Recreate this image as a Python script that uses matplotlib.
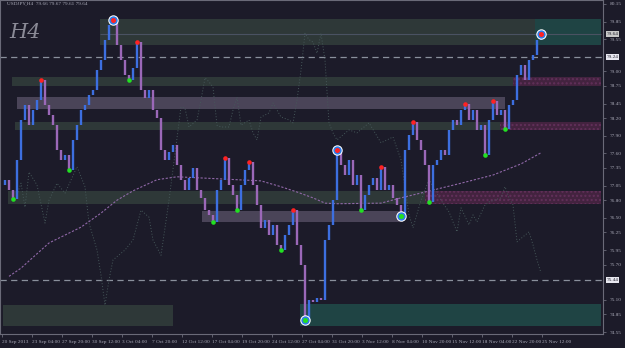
import numpy as np
import matplotlib
matplotlib.use("Agg")
import matplotlib.pyplot as plt

# ---- data (H4 closes) ----
symbol = "USDJPY,H4  79.66 79.67 79.61 79.64"
closes = [77.06, 77.15, 76.97, 76.82, 77.49, 78.17, 78.43, 78.08, 78.34, 78.51,
          78.85, 78.43, 78.25, 78.08, 77.66, 77.49, 77.57, 77.32, 77.83, 78.08,
          78.34, 78.43, 78.60, 78.68, 79.02, 79.19, 79.54, 79.79, 79.88, 79.45,
          79.19, 78.94, 78.85, 79.06, 79.50, 78.68, 78.55, 78.68, 78.34, 78.20,
          77.66, 77.49, 77.62, 77.74, 77.40, 77.15, 76.97, 77.18, 77.35, 76.97,
          76.84, 76.63, 76.55, 76.43, 76.97, 77.15, 77.52, 77.06, 76.89, 76.63,
          77.06, 77.32, 77.45, 77.06, 76.72, 76.33, 76.46, 76.21, 76.38, 76.04,
          75.95, 76.21, 76.38, 76.63, 76.04, 75.69, 74.75, 75.10, 75.06, 75.13,
          75.10, 76.12, 76.38, 76.80, 77.66, 77.40, 77.23, 77.49, 77.06, 77.23,
          76.63, 76.89, 77.06, 77.18, 76.97, 77.37, 76.97, 77.06, 76.84, 76.72,
          76.53, 77.66, 77.91, 78.14, 77.83, 77.66, 77.40, 76.77, 77.40, 77.49,
          77.66, 77.57, 78.00, 78.17, 78.08, 78.34, 78.44, 78.17, 78.34, 78.00,
          78.08, 77.57, 78.17, 78.49, 78.25, 78.34, 78.02, 78.43, 78.51, 78.94,
          79.11, 78.85, 79.19, 79.28, 79.54, 79.64]

# moving average (pink dotted)
ma_idx = [2, 5, 12, 20, 25, 29, 33, 39, 44, 50, 59, 65, 70, 74, 78, 81, 84,
          95, 100, 106, 115, 123, 130, 135]
ma_val = [75.50, 75.64, 76.07, 76.34, 76.58, 76.80, 76.96, 77.15, 77.20, 77.18,
          77.15, 77.13, 77.03, 76.94, 76.84, 76.75, 76.74, 76.75, 76.84, 76.94,
          77.09, 77.23, 77.42, 77.61]

# faint dotted overlay indicator
osc_idx = [4, 5, 6, 7, 9, 11, 12, 14, 16, 19, 21, 22, 24, 25, 26, 27, 28, 31,
           33, 35, 37, 38, 40, 42, 45, 46, 47, 49, 50, 51, 52, 53, 54, 55, 57,
           58, 59, 60, 62, 63, 64, 65, 67, 68, 69, 70, 72, 73, 74, 75, 76, 77,
           78, 79, 80, 81, 82, 83, 84, 87, 89, 92, 95, 98, 100, 102, 103, 105,
           107, 110, 112, 114, 115, 117, 118, 119, 121, 122, 125, 126, 127, 128,
           129, 132, 133, 134, 135]
osc_val = [76.89, 77.09, 76.68, 77.28, 77.06, 76.41, 76.80, 77.09, 76.92, 77.37,
           77.03, 76.41, 75.95, 75.52, 75.01, 75.44, 75.78, 75.95, 76.12, 76.63,
           76.51, 76.12, 75.86, 76.80, 78.39, 78.37, 78.05, 78.17, 78.51, 78.89,
           78.82, 78.73, 78.08, 78.05, 78.05, 78.34, 78.56, 78.08, 78.17, 77.95,
           77.83, 78.22, 78.29, 78.46, 78.34, 78.22, 78.17, 78.12, 78.51, 79.02,
           79.65, 79.54, 79.50, 79.31, 79.65, 79.19, 78.12, 77.95, 77.83, 78.00,
           77.95, 78.12, 77.78, 77.88, 77.49, 76.55, 76.33, 76.80, 77.15, 76.80,
           76.60, 76.26, 76.67, 76.38, 76.55, 76.43, 76.72, 76.77, 76.84, 77.03,
           76.84, 76.72, 76.09, 76.26, 76.04, 75.78, 75.56]

high_marks = [10, 34, 56, 62, 73, 95, 103, 116, 123]
big_high_marks = [28, 84, 135]
low_marks = [3, 17, 32, 53, 59, 70, 90, 107, 121, 126]
big_low_marks = [76, 100]

price_ticks = [80.15, 79.85, 79.55, 79.00, 78.75, 78.45, 78.20, 77.90, 77.60,
               77.35, 77.05, 76.80, 76.50, 76.25, 75.95, 75.70, 75.10, 74.85, 74.55]
level_lines = [79.24, 75.44]
last_price = 79.64
time_labels = ["20 Sep 2013", "23 Sep 04:00", "27 Sep 20:00", "30 Sep 12:00",
               "3 Oct 04:00", "7 Oct 20:00", "12 Oct 12:00", "17 Oct 04:00",
               "19 Oct 20:00", "24 Oct 12:00", "27 Oct 04:00", "31 Oct 20:00",
               "3 Nov 12:00", "8 Nov 04:00", "10 Nov 20:00", "15 Nov 12:00",
               "18 Nov 04:00", "22 Nov 20:00", "25 Nov 12:00"]

# zones: (low, high, first bar, last bar, kind)
zones = [
    (79.45, 79.89, 24.75, 133.5, "sup"),
    (79.45, 79.89, 133.5, 150.0, "teal"),
    (78.75, 78.90, 2.75, 128.0, "sup"),
    (78.75, 78.90, 128.0, 150.0, "pink"),
    (78.36, 78.56, 4.0, 126.0, "lav"),
    (78.00, 78.14, 3.5, 124.75, "sup"),
    (78.00, 78.14, 124.75, 150.0, "pink"),
    (76.74, 76.96, 1.75, 106.0, "sup"),
    (76.74, 76.96, 106.0, 150.0, "pink"),
    (76.43, 76.62, 50.25, 100.5, "lav"),
    (74.65, 75.01, 0.5, 43.0, "sup"),
    (74.65, 75.03, 74.75, 150.0, "teal"),
]

# ---- style ----
BG = "#1c1b29"
TXT = "#a8a8b6"
zone_col = {"sup": "#2e3838", "teal": "#1f4444", "lav": "#4a4458", "pink": "#43233f"}
UP = "#3d6fe0"
DN = "#9b68b8"
FS = 3.8
TICKFONT = "Liberation Serif"

fig = plt.figure(figsize=(6.25, 3.48), dpi=100, facecolor=BG)
ax = fig.add_axes([0.0, 14 / 348, 603 / 625, 334 / 348])
ax.set_facecolor(BG)
ax.set_xlim(-0.25, 150.5)
ax.set_ylim(74.516, 80.218)

for lo, hi, x0, x1, kind in zones:
    if kind == "pink":
        ax.fill_between([x0, x1], lo, hi, facecolor=zone_col[kind],
                        edgecolor="#62305a", hatch="....", linewidth=0, zorder=1)
    else:
        ax.fill_between([x0, x1], lo, hi, color=zone_col[kind], linewidth=0, zorder=1)

ax.hlines(last_price, 24.75, 150, color="#4a5262", lw=0.8, zorder=1.5)
for lv in level_lines:
    ax.axhline(lv, color="#8a909c", lw=0.9, dashes=(5, 3.5), zorder=1.5)

# overlay indicator + MA
ax.plot(osc_idx, osc_val, color="#46585a", lw=0.7, ls=(0, (1, 2)), zorder=2)
ax.plot(ma_idx, ma_val, color="#9068a8", lw=0.8, ls=(0, (2, 1.5)), zorder=2)

# bars: open = previous close
c = np.array(closes)
o = np.r_[c[0], c[:-1]]
idx = np.arange(len(c))
cols = [UP if cc >= oo else DN for oo, cc in zip(o, c)]
ax.vlines(idx, np.minimum(o, c), np.maximum(o, c), colors=cols, lw=1.7, zorder=3)

# fractal markers
ax.plot(high_marks, c[high_marks], "o", color="#ff2222", ms=3.3, mec="none", zorder=5)
ax.plot(low_marks, c[low_marks], "o", color="#22e022", ms=3.3, mec="none", zorder=5)
for marks, inner in ((big_high_marks, "#ff2222"), (big_low_marks, "#22e022")):
    ax.plot(marks, c[marks], "o", color="white", ms=7.5, mec="none", zorder=5)
    ax.plot(marks, c[marks], "o", color="#2f7de8", ms=6, mec="none", zorder=6)
    ax.plot(marks, c[marks], "o", color=inner, ms=3.6, mec="none", zorder=7)

# axes
for s in ax.spines.values():
    s.set_color("#6a6a78")
    s.set_linewidth(0.8)
ax.yaxis.tick_right()
ax.set_yticks(price_ticks)
ax.set_yticklabels(["%.2f" % p for p in price_ticks], family=TICKFONT)
ax.tick_params(axis="y", colors="#6a6a78", labelcolor=TXT, labelsize=FS,
               length=2, width=0.6, pad=3)
xt = np.arange(len(time_labels)) * 7.5 + 0.25
ax.set_xticks(xt)
ax.set_xticklabels(time_labels, ha="left", family=TICKFONT)
ax.tick_params(axis="x", colors="#6a6a78", labelcolor=TXT, labelsize=FS,
               length=2, width=0.6, pad=2)

# price boxes on right scale
for val, fc in ((last_price, "#c8c8c8"), (level_lines[0], "#e8e8f0"), (level_lines[1], "#e8e8f0")):
    ax.text(1.006, val, "%.2f" % val, transform=ax.get_yaxis_transform(),
            fontsize=FS, family=TICKFONT, color="#1c1b29", va="center", ha="left",
            bbox=dict(boxstyle="square,pad=0.15", fc=fc, ec="none"), zorder=10)

ax.text(0.012, 0.993, symbol, transform=ax.transAxes, fontsize=FS, family=TICKFONT,
        color=TXT, va="top", ha="left")
ax.text(0.015, 0.93, "H4", transform=ax.transAxes, fontsize=15, color="#8a8a96",
        family="DejaVu Serif", style="italic", va="top", ha="left")

fig.savefig("out.png", dpi=100, facecolor=BG)
